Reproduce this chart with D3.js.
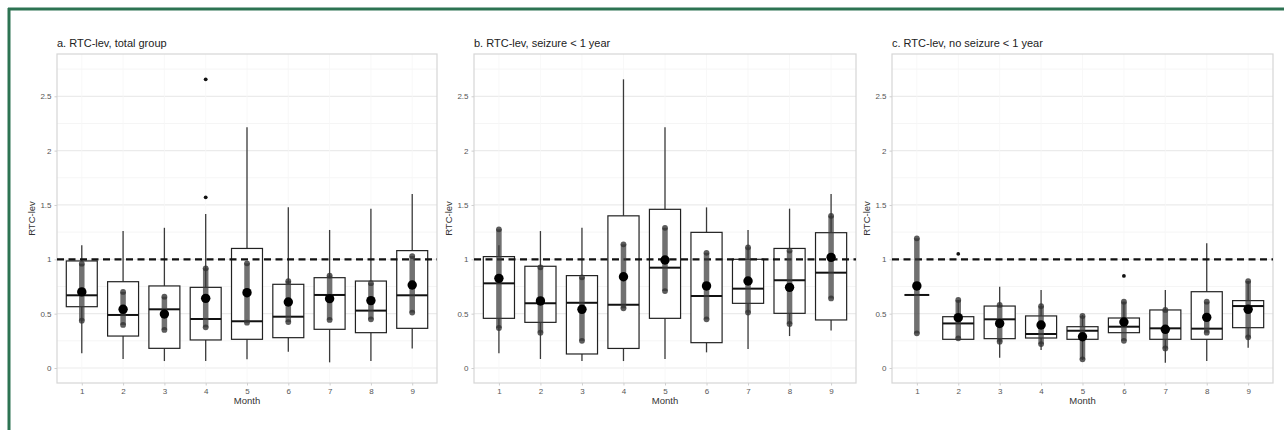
<!DOCTYPE html>
<html>
<head>
<meta charset="utf-8">
<script src="https://cdn.jsdelivr.net/npm/d3@7"></script>
<style>
  html, body { margin: 0; padding: 0; background: #fff; }
  svg { display: block; font-family: "Liberation Sans", Arial, sans-serif; }
</style>
</head>
<body>
<svg id="chart" width="1284" height="430"></svg>
<script>
const months = [1, 2, 3, 4, 5, 6, 7, 8, 9];
const yTicks = [0, 0.5, 1, 1.5, 2, 2.5];
const yTickLabels = ["0", "0.5", "1", "1.5", "2", "2.5"];
const titles = ["a. RTC-lev, total group", "b. RTC-lev, seizure < 1 year", "c. RTC-lev, no seizure < 1 year"];

// Panel a: total group
const aWhiskLo = [0.135, 0.083, 0.064, 0.064, 0.08, 0.15, 0.052, 0.064, 0.18];
const aQ1      = [0.564, 0.294, 0.181, 0.258, 0.264, 0.279, 0.356, 0.325, 0.365];
const aMedian  = [0.669, 0.488, 0.54, 0.451, 0.43, 0.472, 0.672, 0.528, 0.669];
const aQ3      = [0.985, 0.794, 0.755, 0.742, 1.10, 0.77, 0.831, 0.80, 1.08];
const aWhiskHi = [1.13, 1.26, 1.29, 1.417, 2.215, 1.48, 1.27, 1.466, 1.60];
const aMean    = [0.70, 0.54, 0.497, 0.641, 0.693, 0.607, 0.638, 0.62, 0.764];
const aBarLo   = [0.435, 0.396, 0.35, 0.374, 0.417, 0.423, 0.442, 0.448, 0.51];
const aBarHi   = [0.96, 0.70, 0.656, 0.917, 0.963, 0.80, 0.85, 0.78, 1.03];
const aOutMonth = [4, 4];
const aOutValue = [2.656, 1.57];

// Panel b: seizure < 1 year
const bWhiskLo = [0.135, 0.083, 0.064, 0.064, 0.083, 0.144, 0.175, 0.294, 0.344];
const bQ1      = [0.457, 0.42, 0.129, 0.18, 0.457, 0.233, 0.595, 0.503, 0.442];
const bMedian  = [0.779, 0.595, 0.60, 0.583, 0.923, 0.663, 0.73, 0.807, 0.877];
const bQ3      = [1.025, 0.936, 0.85, 1.40, 1.46, 1.248, 1.0, 1.10, 1.245];
const bWhiskHi = [1.13, 1.26, 1.29, 2.656, 2.215, 1.478, 1.27, 1.466, 1.60];
const bMean    = [0.825, 0.617, 0.54, 0.84, 0.994, 0.755, 0.80, 0.742, 1.018];
const bBarLo   = [0.368, 0.325, 0.25, 0.549, 0.708, 0.448, 0.51, 0.405, 0.64];
const bBarHi   = [1.276, 0.926, 0.834, 1.138, 1.29, 1.06, 1.11, 1.08, 1.40];
const bOutMonth = [];
const bOutValue = [];

// Panel c: no seizure < 1 year
const cWhiskLo = [0.672, 0.264, 0.095, 0.166, 0.074, 0.325, 0.049, 0.064, 0.187];
const cQ1      = [0.672, 0.264, 0.27, 0.276, 0.264, 0.325, 0.264, 0.264, 0.371];
const cMedian  = [0.672, 0.41, 0.448, 0.313, 0.343, 0.38, 0.365, 0.362, 0.57];
const cQ3      = [0.672, 0.472, 0.57, 0.479, 0.38, 0.46, 0.534, 0.702, 0.62];
const cWhiskHi = [0.672, 0.626, 0.748, 0.718, 0.488, 0.61, 0.718, 1.147, 0.80];
const cMean    = [0.755, 0.463, 0.41, 0.396, 0.288, 0.423, 0.356, 0.466, 0.54];
const cBarLo   = [0.319, 0.273, 0.242, 0.22, 0.08, 0.25, 0.18, 0.325, 0.282];
const cBarHi   = [1.193, 0.626, 0.58, 0.57, 0.479, 0.61, 0.534, 0.61, 0.80];
const cOutMonth = [2, 6];
const cOutValue = [1.05, 0.847];

const panelData = [
  {wl: aWhiskLo, q1: aQ1, med: aMedian, q3: aQ3, wh: aWhiskHi, mean: aMean, bl: aBarLo, bh: aBarHi, om: aOutMonth, ov: aOutValue},
  {wl: bWhiskLo, q1: bQ1, med: bMedian, q3: bQ3, wh: bWhiskHi, mean: bMean, bl: bBarLo, bh: bBarHi, om: bOutMonth, ov: bOutValue},
  {wl: cWhiskLo, q1: cQ1, med: cMedian, q3: cQ3, wh: cWhiskHi, mean: cMean, bl: cBarLo, bh: cBarHi, om: cOutMonth, ov: cOutValue}
];

const svg = d3.select("#chart");

// green frame (top and left)
svg.append("line").attr("x1", 8).attr("x2", 1284).attr("y1", 9).attr("y2", 9)
  .attr("stroke", "#2d7352").attr("stroke-width", 3);
svg.append("line").attr("x1", 9).attr("x2", 9).attr("y1", 8).attr("y2", 430)
  .attr("stroke", "#2d7352").attr("stroke-width", 3);

const panelsX = [[57, 437], [474, 856], [892, 1273]];
const plotTop = 54, plotBottom = 383;

const y = d3.scaleLinear().domain([-0.138, 2.889]).range([plotBottom, plotTop]);
const minorTicks = [0.25, 0.75, 1.25, 1.75, 2.25, 2.75];

panelsX.forEach(([L, R], pi) => {
  const d = panelData[pi];
  const x = d3.scaleLinear().domain([0.4, 9.6]).range([L, R]);
  const g = svg.append("g");
  const unit = x(2) - x(1);
  const boxW = unit * 0.75;

  // gridlines
  g.selectAll(".minor").data(minorTicks).enter().append("line")
    .attr("x1", L).attr("x2", R).attr("y1", v => y(v)).attr("y2", v => y(v))
    .attr("stroke", "#f3f3f3").attr("stroke-width", 0.8);
  g.selectAll(".major").data(yTicks).enter().append("line")
    .attr("x1", L).attr("x2", R).attr("y1", v => y(v)).attr("y2", v => y(v))
    .attr("stroke", "#ebebeb").attr("stroke-width", 1.2);
  g.selectAll(".vmajor").data(months).enter().append("line")
    .attr("x1", m => x(m)).attr("x2", m => x(m)).attr("y1", plotTop).attr("y2", plotBottom)
    .attr("stroke", "#f6f6f6").attr("stroke-width", 0.8);

  // panel border
  g.append("rect").attr("x", L).attr("y", plotTop).attr("width", R - L).attr("height", plotBottom - plotTop)
    .attr("fill", "none").attr("stroke", "#d6d6d6").attr("stroke-width", 1.2);

  // axes
  const yAxis = d3.axisLeft(y).tickValues(yTicks).tickFormat((v, i) => yTickLabels[i]).tickSize(2.5).tickPadding(3);
  const ya = g.append("g").attr("transform", `translate(${L},0)`).call(yAxis);
  ya.select(".domain").remove();
  ya.selectAll("line").attr("stroke", "#cfcfcf");
  ya.selectAll("text").attr("fill", "#555").style("font-size", "8px");

  const xAxis = d3.axisBottom(x).tickValues(months).tickFormat(d3.format("d")).tickSize(2.5).tickPadding(3);
  const xa = g.append("g").attr("transform", `translate(0,${plotBottom})`).call(xAxis);
  xa.select(".domain").remove();
  xa.selectAll("line").attr("stroke", "#cfcfcf");
  xa.selectAll("text").attr("fill", "#555").style("font-size", "8px");

  // titles
  g.append("text").attr("x", L).attr("y", 47).text(titles[pi])
    .attr("fill", "#222").style("font-size", "11px");
  g.append("text").attr("x", (L + R) / 2).attr("y", 404).attr("text-anchor", "middle")
    .text("Month").attr("fill", "#333").style("font-size", "9.5px");
  g.append("text").attr("transform", `translate(${L - 22},${(plotTop + plotBottom) / 2}) rotate(-90)`)
    .attr("text-anchor", "middle").text("RTC-lev").attr("fill", "#333").style("font-size", "9.5px");

  const idx = months.map((m, i) => i);

  // whiskers
  g.selectAll(".wu").data(idx).enter().append("line")
    .attr("x1", i => x(months[i])).attr("x2", i => x(months[i]))
    .attr("y1", i => y(d.q3[i])).attr("y2", i => y(d.wh[i]))
    .attr("stroke", "#3a3a3a").attr("stroke-width", 1.3);
  g.selectAll(".wd").data(idx).enter().append("line")
    .attr("x1", i => x(months[i])).attr("x2", i => x(months[i]))
    .attr("y1", i => y(d.q1[i])).attr("y2", i => y(d.wl[i]))
    .attr("stroke", "#3a3a3a").attr("stroke-width", 1.3);

  // boxes
  g.selectAll(".box").data(idx.filter(i => d.q3[i] > d.q1[i])).enter().append("rect")
    .attr("x", i => x(months[i]) - boxW / 2).attr("width", boxW)
    .attr("y", i => y(d.q3[i])).attr("height", i => y(d.q1[i]) - y(d.q3[i]))
    .attr("fill", "#fff").attr("stroke", "#222").attr("stroke-width", 1.2);

  // medians
  g.selectAll(".med").data(idx).enter().append("line")
    .attr("x1", i => x(months[i]) - (d.q3[i] > d.q1[i] ? boxW / 2 : boxW * 0.4))
    .attr("x2", i => x(months[i]) + (d.q3[i] > d.q1[i] ? boxW / 2 : boxW * 0.4))
    .attr("y1", i => y(d.med[i])).attr("y2", i => y(d.med[i]))
    .attr("stroke", "#111").attr("stroke-width", 2);

  // outliers
  g.selectAll(".out").data(d.om.map((m, k) => k)).enter().append("circle")
    .attr("cx", k => x(d.om[k])).attr("cy", k => y(d.ov[k])).attr("r", 1.9)
    .attr("fill", "#111");

  // dashed reference line at 1
  g.append("line").attr("x1", L).attr("x2", R).attr("y1", y(1)).attr("y2", y(1))
    .attr("stroke", "#111").attr("stroke-width", 2.2).attr("stroke-dasharray", "7,4.5");

  // thick gray interval bars
  g.selectAll(".bar").data(idx).enter().append("line")
    .attr("x1", i => x(months[i])).attr("x2", i => x(months[i]))
    .attr("y1", i => y(d.bl[i])).attr("y2", i => y(d.bh[i]))
    .attr("stroke", "#3a3a3a").attr("stroke-opacity", 0.72).attr("stroke-width", 5.5);
  g.selectAll(".endLo").data(idx).enter().append("circle")
    .attr("cx", i => x(months[i])).attr("cy", i => y(d.bl[i])).attr("r", 2.9)
    .attr("fill", "#333").attr("fill-opacity", 0.8);
  g.selectAll(".endHi").data(idx).enter().append("circle")
    .attr("cx", i => x(months[i])).attr("cy", i => y(d.bh[i])).attr("r", 2.9)
    .attr("fill", "#333").attr("fill-opacity", 0.8);

  // means
  g.selectAll(".mean").data(idx).enter().append("circle")
    .attr("cx", i => x(months[i])).attr("cy", i => y(d.mean[i])).attr("r", 4.7)
    .attr("fill", "#000");
});
</script>
</body>
</html>
